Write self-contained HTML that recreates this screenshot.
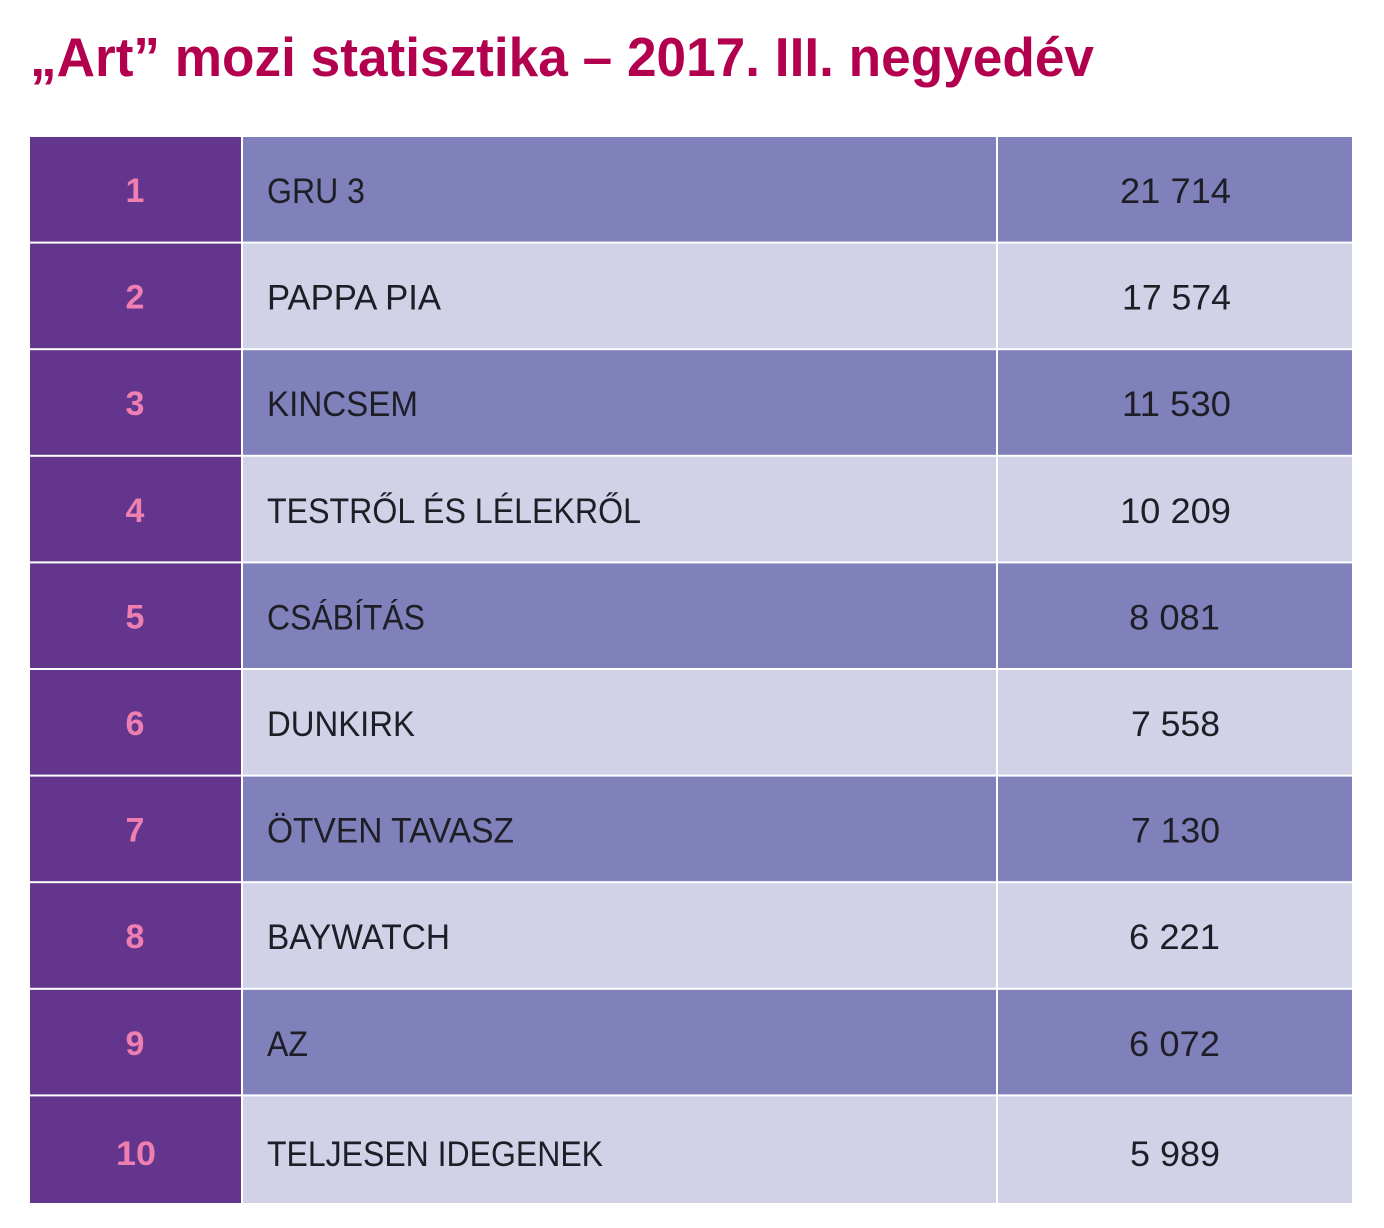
<!DOCTYPE html>
<html><head><meta charset="utf-8"><style>
html,body{margin:0;padding:0;background:#fff;}
svg{display:block;}
</style></head><body>
<svg width="1384" height="1228" viewBox="0 0 1384 1228" xmlns="http://www.w3.org/2000/svg" font-family="'Liberation Sans', sans-serif">
<rect width="1384" height="1228" fill="#fff"/>
<text x="30" y="76" font-size="55" font-weight="bold" fill="#b3004e" textLength="1064" lengthAdjust="spacingAndGlyphs">„Art” mozi statisztika – 2017. III. negyedév</text>
<g id="rows">
<!-- row backgrounds -->
<rect x="30" y="137" width="1322" height="1066" fill="#fff"/>
</g>
<g>
<rect x="30" y="137" width="211" height="104.6" fill="#63358c"/>
<rect x="243" y="137" width="753" height="104.6" fill="#8080bb"/>
<rect x="998" y="137" width="354" height="104.6" fill="#8080bb"/>
<rect x="30" y="243.6" width="211" height="104.6" fill="#63358c"/>
<rect x="243" y="243.6" width="753" height="104.6" fill="#d1d1e8"/>
<rect x="998" y="243.6" width="354" height="104.6" fill="#d1d1e8"/>
<rect x="30" y="350.2" width="211" height="104.6" fill="#63358c"/>
<rect x="243" y="350.2" width="753" height="104.6" fill="#8080bb"/>
<rect x="998" y="350.2" width="354" height="104.6" fill="#8080bb"/>
<rect x="30" y="456.8" width="211" height="104.6" fill="#63358c"/>
<rect x="243" y="456.8" width="753" height="104.6" fill="#d1d1e8"/>
<rect x="998" y="456.8" width="354" height="104.6" fill="#d1d1e8"/>
<rect x="30" y="563.4" width="211" height="104.6" fill="#63358c"/>
<rect x="243" y="563.4" width="753" height="104.6" fill="#8080bb"/>
<rect x="998" y="563.4" width="354" height="104.6" fill="#8080bb"/>
<rect x="30" y="670" width="211" height="104.6" fill="#63358c"/>
<rect x="243" y="670" width="753" height="104.6" fill="#d1d1e8"/>
<rect x="998" y="670" width="354" height="104.6" fill="#d1d1e8"/>
<rect x="30" y="776.6" width="211" height="104.6" fill="#63358c"/>
<rect x="243" y="776.6" width="753" height="104.6" fill="#8080bb"/>
<rect x="998" y="776.6" width="354" height="104.6" fill="#8080bb"/>
<rect x="30" y="883.2" width="211" height="104.6" fill="#63358c"/>
<rect x="243" y="883.2" width="753" height="104.6" fill="#d1d1e8"/>
<rect x="998" y="883.2" width="354" height="104.6" fill="#d1d1e8"/>
<rect x="30" y="989.8" width="211" height="104.6" fill="#63358c"/>
<rect x="243" y="989.8" width="753" height="104.6" fill="#8080bb"/>
<rect x="998" y="989.8" width="354" height="104.6" fill="#8080bb"/>
<rect x="30" y="1096.4" width="211" height="106.6" fill="#63358c"/>
<rect x="243" y="1096.4" width="753" height="106.6" fill="#d1d1e8"/>
<rect x="998" y="1096.4" width="354" height="106.6" fill="#d1d1e8"/>
</g>
<g font-size="34" font-weight="bold" fill="#ef7fb1" text-anchor="middle">
<text x="135" y="202">1</text>
<text x="135" y="308.6">2</text>
<text x="135" y="415.2">3</text>
<text x="135" y="521.8">4</text>
<text x="135" y="628.4">5</text>
<text x="135" y="735">6</text>
<text x="135" y="841.6">7</text>
<text x="135" y="948.2">8</text>
<text x="135" y="1054.8">9</text>
<text x="136" y="1165" textLength="40" lengthAdjust="spacingAndGlyphs">10</text>
</g>
<g font-size="35" fill="#1f1e26" lengthAdjust="spacingAndGlyphs">
<text x="267" y="203" textLength="98" lengthAdjust="spacingAndGlyphs">GRU 3</text>
<text x="267" y="309.6" textLength="174" lengthAdjust="spacingAndGlyphs">PAPPA PIA</text>
<text x="267" y="416.2" textLength="151" lengthAdjust="spacingAndGlyphs">KINCSEM</text>
<text x="267" y="522.8" textLength="374" lengthAdjust="spacingAndGlyphs">TESTRŐL ÉS LÉLEKRŐL</text>
<text x="267" y="629.4" textLength="158" lengthAdjust="spacingAndGlyphs">CSÁBÍTÁS</text>
<text x="267" y="736" textLength="148" lengthAdjust="spacingAndGlyphs">DUNKIRK</text>
<text x="267" y="842.6" textLength="247" lengthAdjust="spacingAndGlyphs">ÖTVEN TAVASZ</text>
<text x="267" y="949.2" textLength="183" lengthAdjust="spacingAndGlyphs">BAYWATCH</text>
<text x="267" y="1055.8" textLength="41" lengthAdjust="spacingAndGlyphs">AZ</text>
<text x="267" y="1166" textLength="336" lengthAdjust="spacingAndGlyphs">TELJESEN IDEGENEK</text>
</g>
<g font-size="35" fill="#1f1e26">
<text x="1120" y="203" textLength="111" lengthAdjust="spacingAndGlyphs">21 714</text>
<text x="1122" y="309.6" textLength="109" lengthAdjust="spacingAndGlyphs">17 574</text>
<text x="1122" y="416.2" textLength="109" lengthAdjust="spacingAndGlyphs">11 530</text>
<text x="1120" y="522.8" textLength="111" lengthAdjust="spacingAndGlyphs">10 209</text>
<text x="1129" y="629.4" textLength="91" lengthAdjust="spacingAndGlyphs">8 081</text>
<text x="1131" y="736" textLength="89" lengthAdjust="spacingAndGlyphs">7 558</text>
<text x="1131" y="842.6" textLength="89" lengthAdjust="spacingAndGlyphs">7 130</text>
<text x="1129" y="949.2" textLength="91" lengthAdjust="spacingAndGlyphs">6 221</text>
<text x="1129" y="1055.8" textLength="91" lengthAdjust="spacingAndGlyphs">6 072</text>
<text x="1130" y="1166" textLength="90" lengthAdjust="spacingAndGlyphs">5 989</text>
</g>
</svg>
</body></html>
